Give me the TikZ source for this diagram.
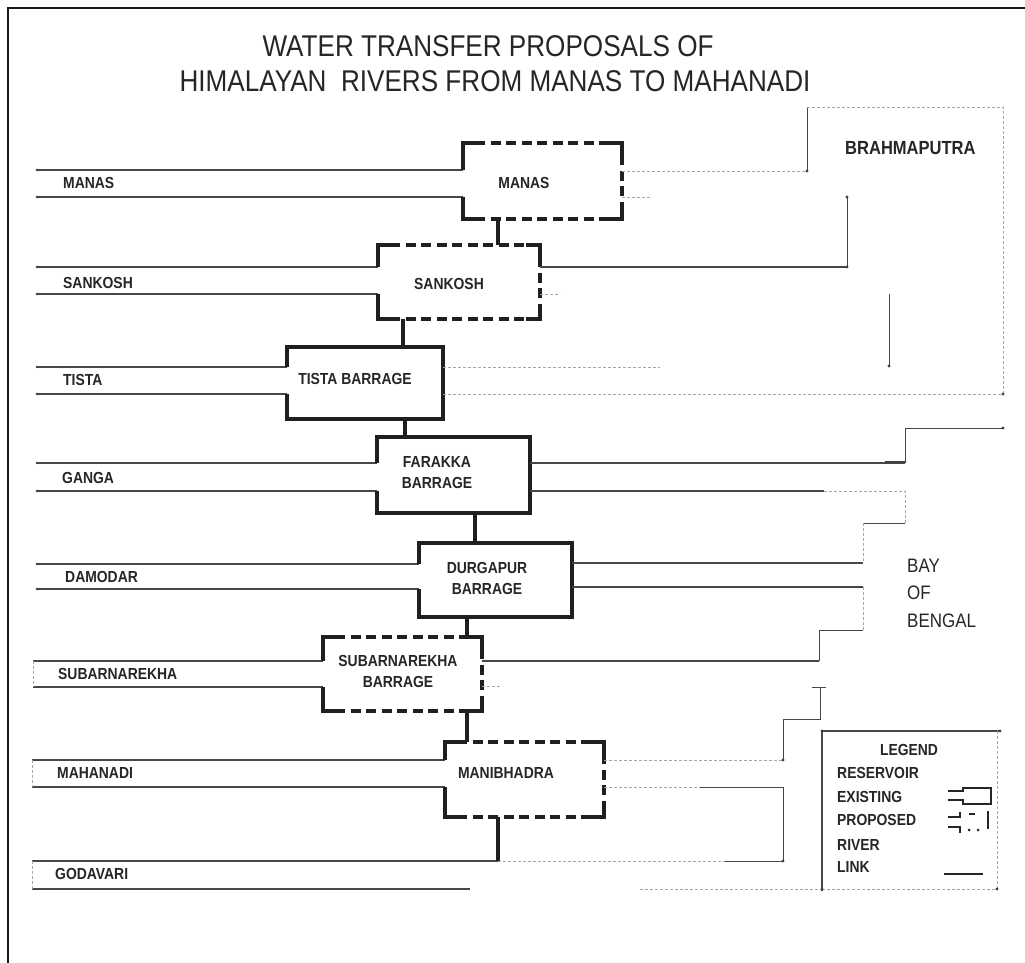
\documentclass[tikz,border=0pt]{standalone}
\usepackage{fontspec}
\setmainfont{Liberation Sans}
\newfontfamily\narrowsans[FakeStretch=0.87]{Liberation Sans}
\begin{document}
\begin{tikzpicture}[x=1pt,y=-1pt,
  river/.style={line width=1.1pt,draw=black!72},
  faint/.style={line width=0.8pt,draw=black!35,dash pattern=on 3pt off 2pt},
  boxsolid/.style={line width=3.6pt,draw=black!88,line join=miter},
  boxdash/.style={line width=3.6pt,draw=black!88,dash pattern=on 10pt off 5.5pt},
  linkline/.style={line width=3.6pt,draw=black!88},
  lgsym/.style={line width=2.4pt,draw=black!85,line join=miter},
  lbl/.style={font=\narrowsans\bfseries\fontsize{16}{18}\selectfont,text=black!85,inner sep=0pt},
  title/.style={font=\narrowsans\fontsize{30}{32}\selectfont,text=black!85,inner sep=0pt},
  big/.style={font=\narrowsans\fontsize{19.5}{22}\selectfont,text=black!85,inner sep=0pt},
  dotm/.style={fill=black!75,circle,inner sep=0pt,minimum size=3.2pt}]
\useasboundingbox (0,0) rectangle (1025,963);
\fill[white] (0,0) rectangle (1025,963);
% frame
\draw[line width=2.4pt,black!90] (8,963) -- (8,8) -- (1025,8);
% title
\node[title] (t1) at (488,46) {WATER TRANSFER PROPOSALS OF};
\node[title] (t2) at (495,81) {HIMALAYAN\ \ RIVERS FROM MANAS TO MAHANADI};

% ---------- rivers, left side ----------
\draw[river] (37,170) -- (463,170);  \draw[river] (37,197) -- (463,197);
\draw[river] (37,267) -- (378,267);  \draw[river] (37,294) -- (378,294);
\draw[river] (37,367) -- (287,367);  \draw[river] (37,394) -- (287,394);
\draw[river] (37,463) -- (377,463);  \draw[river] (37,491) -- (377,491);
\draw[river] (37,564) -- (419,564);  \draw[river] (37,589) -- (419,589);
\draw[river] (33,661) -- (323,661);  \draw[river] (33,687) -- (323,687);
\draw[faint] (33,661) -- (33,687);
\draw[river] (32,760) -- (445,760);  \draw[river] (32,787) -- (445,787);
\draw[faint] (32,760) -- (32,787);
\draw[river] (32,861) -- (498,861);  \draw[river] (32,889) -- (470,889);
\draw[faint] (32,861) -- (32,889);
\foreach \y in {170,197,267,294,367,394,463,491,564,589} \node[dotm,minimum size=2.6pt] at (37,\y) {};

% river labels
\node[lbl,anchor=west] (lmanas) at (63,183) {MANAS};
\node[lbl,anchor=west] (lsank) at (63,283) {SANKOSH};
\node[lbl,anchor=west] (ltista) at (63,380) {TISTA};
\node[lbl,anchor=west] (lganga) at (62,478) {GANGA};
\node[lbl,anchor=west] (ldamo) at (65,577) {DAMODAR};
\node[lbl,anchor=west] (lsuba) at (58,674) {SUBARNAREKHA};
\node[lbl,anchor=west] (lmaha) at (57,773) {MAHANADI};
\node[lbl,anchor=west] (lgoda) at (55,874) {GODAVARI};

% ---------- boxes ----------
% Manas (proposed)
\draw[boxdash] (475,143) -- (610,143); \draw[boxdash] (475,219) -- (610,219);
\draw[boxdash] (622,155) -- (622,207);
\draw[boxsolid] (463,170) -- (463,143) -- (477,143);
\draw[boxsolid] (463,197) -- (463,219) -- (477,219);
\draw[boxsolid] (608,143) -- (622,143) -- (622,158);
\draw[boxsolid] (608,219) -- (622,219) -- (622,204);
\node[lbl] (manas) at (524,183) {MANAS};
% Sankosh (proposed)
\draw[boxdash] (390,245) -- (528,245); \draw[boxdash] (390,319) -- (528,319);
\draw[boxdash] (540,257) -- (540,307);
\draw[boxsolid] (378,267) -- (378,245) -- (392,245);
\draw[boxsolid] (378,294) -- (378,319) -- (392,319);
\draw[boxsolid] (526,245) -- (540,245) -- (540,260);
\draw[boxsolid] (526,319) -- (540,319) -- (540,304);
\node[lbl] (sankosh) at (449,284) {SANKOSH};
% Tista (existing)
\draw[boxsolid] (287,367) -- (287,347) -- (443,347) -- (443,419) -- (287,419) -- (287,394);
\node[lbl] (tista) at (355,379) {TISTA BARRAGE};
% Farakka (existing)
\draw[boxsolid] (377,463) -- (377,437) -- (530,437) -- (530,513) -- (377,513) -- (377,491);
\node[lbl,align=center] (farakka) at (437,473) {FARAKKA\\[3pt]BARRAGE};
% Durgapur (existing)
\draw[boxsolid] (419,564) -- (419,543) -- (572,543) -- (572,617) -- (419,617) -- (419,589);
\node[lbl,align=center] (durgapur) at (487,578) {DURGAPUR\\[3pt]BARRAGE};
% Subarnarekha (proposed)
\draw[boxdash] (335,637) -- (470,637); \draw[boxdash] (335,711) -- (470,711);
\draw[boxdash] (482,649) -- (482,699);
\draw[boxsolid] (323,661) -- (323,637) -- (337,637);
\draw[boxsolid] (323,687) -- (323,711) -- (337,711);
\draw[boxsolid] (468,637) -- (482,637) -- (482,652);
\draw[boxsolid] (468,711) -- (482,711) -- (482,696);
\node[lbl,align=center] (subarna) at (398,671) {SUBARNAREKHA\\[3pt]BARRAGE};
% Manibhadra (proposed)
\draw[boxdash] (457,742) -- (592,742); \draw[boxdash] (457,817) -- (592,817);
\draw[boxdash] (604,754) -- (604,805);
\draw[boxsolid] (445,760) -- (445,742) -- (459,742);
\draw[boxsolid] (445,787) -- (445,817) -- (459,817);
\draw[boxsolid] (590,742) -- (604,742) -- (604,757);
\draw[boxsolid] (590,817) -- (604,817) -- (604,802);
\node[lbl] (manib) at (506,773) {MANIBHADRA};

% ---------- links ----------
\coordinate (k1a) at (498,219); \coordinate (k1b) at (498,245);
\coordinate (k2a) at (403,319); \coordinate (k2b) at (403,347);
\coordinate (k3a) at (405,419); \coordinate (k3b) at (405,437);
\coordinate (k4a) at (475,513); \coordinate (k4b) at (475,543);
\coordinate (k5a) at (467,617); \coordinate (k5b) at (467,637);
\coordinate (k6a) at (467,711); \coordinate (k6b) at (467,742);
\coordinate (k7a) at (498,817); \coordinate (k7b) at (498,861);
\draw[linkline] (k1a) -- (k1b);
\draw[linkline] (k2a) -- (k2b);
\draw[linkline] (k3a) -- (k3b);
\draw[linkline] (k4a) -- (k4b);
\draw[linkline] (k5a) -- (k5b);
\draw[linkline] (k6a) -- (k6b);
\draw[linkline] (k7a) -- (k7b);

% ---------- rivers, right side to the sea ----------
% Brahmaputra
\draw[faint] (622,171) -- (807,171);
\draw[faint] (622,197) -- (652,197);
\draw[river,line width=0.8pt] (807,107) -- (807,171);
\draw[faint] (807,107) -- (1003,107) -- (1003,393);
\draw[river] (540,267) -- (847,267);
\draw[river,line width=0.8pt] (847,197) -- (847,267);
\draw[faint] (540,294) -- (560,294);
\draw[river,line width=0.8pt] (889,294) -- (889,366);
\draw[faint] (443,367) -- (660,367);
\draw[faint] (443,394) -- (1003,394);
\node[dotm] at (807,171) {}; \node[dotm] at (847,197) {}; \node[dotm] at (847,267) {};
\node[dotm] at (889,366) {}; \node[dotm] at (1003,394) {};
\node[big,font=\narrowsans\bfseries\fontsize{19}{22}\selectfont,anchor=west] (brahma) at (845,148) {BRAHMAPUTRA};
% Bay of Bengal steps
\draw[river,line width=0.8pt] (1003,428) -- (905,428) -- (905,463);
\node[dotm] at (1003,428) {};
\draw[river] (530,463) -- (905,463);
\draw[line width=2pt,black!75] (885,462) -- (905,462);
\draw[river] (530,491) -- (824,491);
\draw[faint] (824,491) -- (905,491) -- (905,523);
\draw[river,line width=0.8pt] (905,523) -- (863,523);
\draw[faint] (863,523) -- (863,563);
\draw[river] (572,563) -- (863,563);
\draw[river] (572,587) -- (863,587);
\draw[faint] (863,587) -- (863,630);
\draw[river,line width=0.8pt] (863,630) -- (819,630) -- (819,661);
\draw[river] (482,661) -- (819,661);
\draw[faint] (482,686) -- (502,686);
\draw[river,line width=0.8pt] (812,687) -- (826,687);
\draw[river,line width=0.8pt] (820,687) -- (820,719) -- (783,719) -- (783,760);
\draw[faint] (604,760) -- (783,760);
\draw[faint] (604,787) -- (700,787);
\draw[river,line width=0.8pt] (700,787) -- (783,787) -- (783,861);
\draw[faint] (498,861) -- (725,861);
\draw[river,line width=0.8pt] (725,861) -- (783,861);
\node[dotm] at (783,760) {}; \node[dotm] at (783,861) {};
\draw[faint] (640,889) -- (822,889);
\node[big,anchor=west] (bay1) at (907,566) {BAY};
\node[big,anchor=west] (bay2) at (907,593) {OF};
\node[big,anchor=west] (bay3) at (907,621) {BENGAL};

% ---------- legend ----------
\draw[river] (822,891) -- (822,731) -- (1000,731);
\draw[faint] (997,731) -- (997,889) -- (822,889);
\node[dotm] at (822,731) {}; \node[dotm] at (1000,731) {};
\node[dotm] at (822,889) {}; \node[dotm] at (997,889) {};
\node[lbl] (lgd) at (909,750) {LEGEND};
\node[lbl,anchor=west] (lres) at (837,773) {RESERVOIR};
\node[lbl,anchor=west] (lex) at (837,797) {EXISTING};
\node[lbl,anchor=west] (lpro) at (837,820) {PROPOSED};
\node[lbl,anchor=west] (lriv) at (837,845) {RIVER};
\node[lbl,anchor=west] (llink) at (837,867) {LINK};
% existing symbol
\draw[lgsym] (948,791) -- (963,791) -- (963,788) -- (991,788) -- (991,804) -- (963,804) -- (963,800) -- (948,800);
% proposed symbol
\draw[lgsym] (948,817) -- (960,817) -- (960,812);
\draw[lgsym] (948,827) -- (960,827) -- (960,833);
\draw[lgsym] (969,814) -- (975,814);
\fill[black!85] (969,830) circle (1.5pt) (978,830) circle (1.5pt);
\draw[lgsym] (988,811) -- (988,829);
% link symbol
\draw[lgsym] (944,874) -- (983,874);
\end{tikzpicture}
\end{document}
